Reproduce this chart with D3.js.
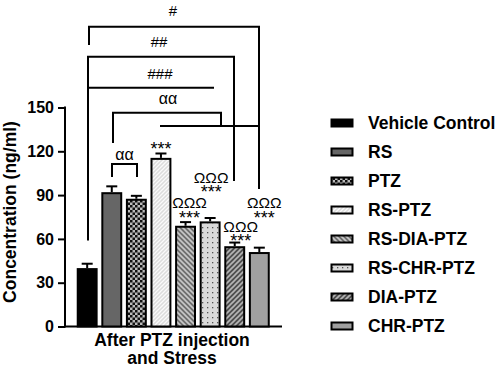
<!DOCTYPE html>
<html><head><meta charset="utf-8">
<script src="https://cdn.jsdelivr.net/npm/d3@7"></script>
<style>body{margin:0;background:#fff}svg{display:block}text{font-family:"Liberation Sans",Arial,sans-serif}</style>
</head><body>
<script>
const categories = ["Vehicle Control","RS","PTZ","RS-PTZ","RS-DIA-PTZ","RS-CHR-PTZ","DIA-PTZ","CHR-PTZ"];
const means = [40, 92, 87.5, 115.5, 69, 72, 55, 51];
const sems  = [3, 4, 2, 3, 2.5, 2.3, 2.5, 3];
const yTicks = [0, 30, 60, 90, 120, 150];
const starLabels = ["", "", "", "***", "***", "***", "***", "***"];
const omegaLabels = ["", "", "", "", "ΩΩΩ", "ΩΩΩ", "ΩΩΩ", "ΩΩΩ"];

const W = 498, H = 369;
const svg = d3.select("body").append("svg").attr("width", W).attr("height", H);
const defs = svg.append("defs");

function pat(id, size, bg, draw){
  const p = defs.append("pattern").attr("id", id).attr("patternUnits","userSpaceOnUse")
    .attr("width", size).attr("height", size);
  p.append("rect").attr("width", size).attr("height", size).attr("fill", bg);
  draw(p);
}
pat("checker", 5, "#bbb", p => {
  p.append("rect").attr("width",2.5).attr("height",2.5).attr("fill","#111");
  p.append("rect").attr("x",2.5).attr("y",2.5).attr("width",2.5).attr("height",2.5).attr("fill","#111");
});
pat("rsptz", 4, "#dcdcdc", p => {
  p.append("path").attr("d","M0,4 L4,0 M-1,1 L1,-1 M3,5 L5,3").attr("stroke","#fafafa").attr("stroke-width",1.3);
});
pat("rsdia", 5, "#6e6e6e", p => {
  p.append("path").attr("d","M0,0 L5,5 M-1,4 L1,6 M4,-1 L6,1").attr("stroke","#c8c8c8").attr("stroke-width",1.6);
});
pat("dots", 5, "#dadada", p => {
  p.append("rect").attr("x",2).attr("y",2).attr("width",1.3).attr("height",1.3).attr("fill","#555");
});
pat("dia", 5, "#4e4e4e", p => {
  p.append("path").attr("d","M0,5 L5,0 M-1,1 L1,-1 M4,6 L6,4").attr("stroke","#b5b5b5").attr("stroke-width",1.6);
});
const fills = ["#000","#666","url(#checker)","url(#rsptz)","url(#rsdia)","url(#dots)","url(#dia)","#a0a0a0"];

const y = d3.scaleLinear().domain([0,150]).range([326.5,107.5]);
const x = d3.scaleBand().domain(categories).range([75.5,271]).paddingInner(0.15).paddingOuter(0.05);

// axes
const yAxis = d3.axisLeft(y).tickValues(yTicks).tickSize(7).tickPadding(4);
const gy = svg.append("g").attr("transform","translate(65,0)").call(yAxis);
gy.select(".domain").attr("stroke","#000").attr("stroke-width",2).attr("d","M0,106.5V327.5");
gy.selectAll(".tick line").attr("stroke","#000").attr("stroke-width",2);
gy.selectAll(".tick text").attr("font-size",16).attr("font-weight","bold").attr("fill","#000").attr("font-family","Liberation Sans, Arial, sans-serif");
svg.append("line").attr("x1",64).attr("x2",282).attr("y1",326.5).attr("y2",326.5).attr("stroke","#000").attr("stroke-width",2);

// axis titles
svg.append("text").attr("transform","translate(16,212) rotate(-90)").attr("text-anchor","middle")
  .attr("font-size",17.5).attr("font-weight","bold").text("Concentration (ng/ml)");
svg.append("text").attr("x",172).attr("y",346).attr("text-anchor","middle").attr("font-size",17.5).attr("font-weight","bold").text("After PTZ injection");
svg.append("text").attr("x",172).attr("y",364).attr("text-anchor","middle").attr("font-size",17.5).attr("font-weight","bold").text("and Stress");

// label layout (offsets from bar centre / baselines)
const labelDx = [0,0,0,0,4,1,6,5];
const starBase = [0,0,0,155,224,198,247,224];
const omegaBase = [0,0,0,0,208,183,232,208];

const bw = x.bandwidth();
categories.forEach((c,i) => {
  const cx = x(c) + bw/2;
  svg.append("line").attr("x1",cx).attr("x2",cx).attr("y1",y(means[i])).attr("y2",y(means[i]+sems[i])).attr("stroke","#000").attr("stroke-width",2);
  svg.append("line").attr("x1",cx-5.5).attr("x2",cx+5.5).attr("y1",y(means[i]+sems[i])).attr("y2",y(means[i]+sems[i])).attr("stroke","#000").attr("stroke-width",2);
  svg.append("rect").attr("x",x(c)+1).attr("y",y(means[i])+1).attr("width",bw-2).attr("height",y(0)-y(means[i])-1)
    .attr("fill",fills[i]).attr("stroke","#000").attr("stroke-width",2);
  if (starLabels[i]) svg.append("text").attr("x",cx+labelDx[i]).attr("y",starBase[i]).attr("text-anchor","middle").attr("font-size",18).text(starLabels[i]);
  if (omegaLabels[i]) svg.append("text").attr("x",cx+labelDx[i]).attr("y",omegaBase[i]).attr("text-anchor","middle").attr("font-size",15.5).text(omegaLabels[i]);
});

// significance brackets
const ln = d => svg.append("path").attr("d",d).attr("fill","none").attr("stroke","#000").attr("stroke-width",2);
const lbl = (tx,ty,t,fs) => svg.append("text").attr("x",tx).attr("y",ty).attr("text-anchor","middle").attr("font-size",fs).text(t);
ln(`M89,45V26.7H259V189`);
lbl(173,16,"#",15);
ln(`M88,240.5V56.7H234V181`);
lbl(159,47,"##",15);
ln(`M88,87.7H214`);
lbl(160,79,"###",15);
ln(`M113,143V112.7H221V126`);
ln(`M160,126H259`);
lbl(168,104,"αα",16);
ln(`M112,177V164H137V177`);
lbl(124.5,160,"αα",16);

// legend
const lg = svg.append("g");
categories.forEach((c,i) => {
  const ly = 123 + i*29;
  lg.append("rect").attr("x",331.5).attr("y",ly-3.5).attr("width",21).attr("height",7).attr("fill",fills[i]).attr("stroke","#000").attr("stroke-width",2);
  lg.append("text").attr("x",368).attr("y",ly+6).attr("font-size",17.5).attr("font-weight","bold").text(c);
});
</script>
</body></html>
